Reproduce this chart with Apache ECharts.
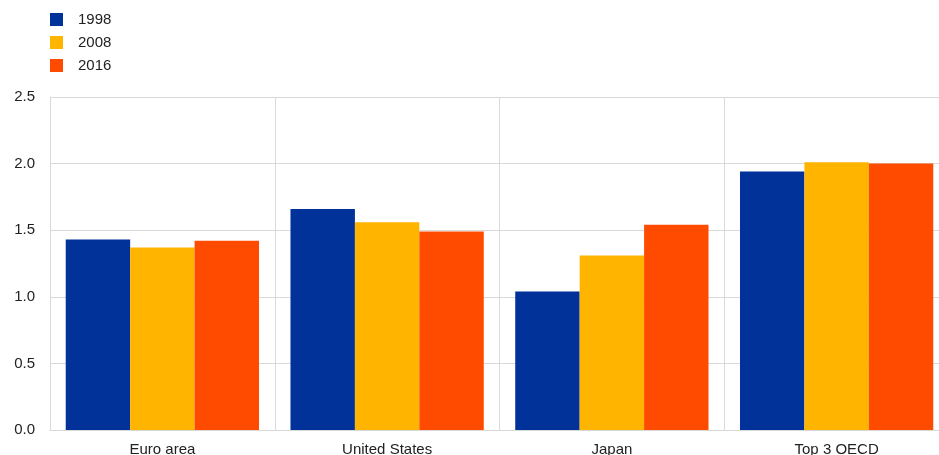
<!DOCTYPE html>
<html>
<head>
<meta charset="utf-8">
<script src="https://cdn.jsdelivr.net/npm/echarts@6/dist/echarts.min.js"></script>
<style>
  html, body { margin: 0; padding: 0; background: #fff; }
  #chart { width: 939px; height: 455px; }
</style>
</head>
<body>
<div id="chart"></div>
<script>
// categories and series values
const categories = ['Euro area', 'United States', 'Japan', 'Top 3 OECD']
const years = ['1998', '2008', '2016']
const v1998 = [1.43, 1.66, 1.04, 1.94]
const v2008 = [1.37, 1.56, 1.31, 2.01]
const v2016 = [1.42, 1.49, 1.54, 2.00]
const colors = ['#003299', '#FFB400', '#FF4B00']

const font = 'Liberation Sans, Arial, sans-serif'
const myChart = echarts.init(document.getElementById('chart'))

myChart.setOption({
    animation: false,
    color: colors,
    textStyle: { fontFamily: font },
    legend: {
        orient: 'vertical',
        left: 45,
        top: 7,
        itemWidth: 13,
        itemHeight: 13,
        itemGap: 8,
        icon: 'rect',
        textStyle: { fontSize: 15, color: '#222', fontFamily: font, padding: [0, 0, 0, 10] },
        data: years
    },
    // the plot runs a little past the right edge of the picture
    grid: { left: 50, right: -10, top: 97, bottom: 25, outerBoundsMode: 'none', containLabel: false },
    xAxis: {
        type: 'category',
        data: categories,
        axisLine: { lineStyle: { color: '#d9d9d9' } },
        axisTick: { show: false },
        splitLine: { show: true, lineStyle: { color: '#d9d9d9' } },
        axisLabel: { fontSize: 15, color: '#222', margin: 12, fontFamily: font }
    },
    yAxis: {
        type: 'value',
        min: 0,
        max: 2.5,
        interval: 0.5,
        axisLine: { show: true, lineStyle: { color: '#d9d9d9' } },
        axisTick: { show: false },
        splitLine: { lineStyle: { color: '#d9d9d9' } },
        axisLabel: {
            fontSize: 15, color: '#222', margin: 15, fontFamily: font,
            formatter: v => v.toFixed(1)
        }
    },
    series: [
        { name: years[0], type: 'bar', data: v1998, barGap: '0%', barCategoryGap: '14%' },
        { name: years[1], type: 'bar', data: v2008, barGap: '0%', barCategoryGap: '14%' },
        { name: years[2], type: 'bar', data: v2016, barGap: '0%', barCategoryGap: '14%' }
    ]
})
</script>
</body>
</html>
